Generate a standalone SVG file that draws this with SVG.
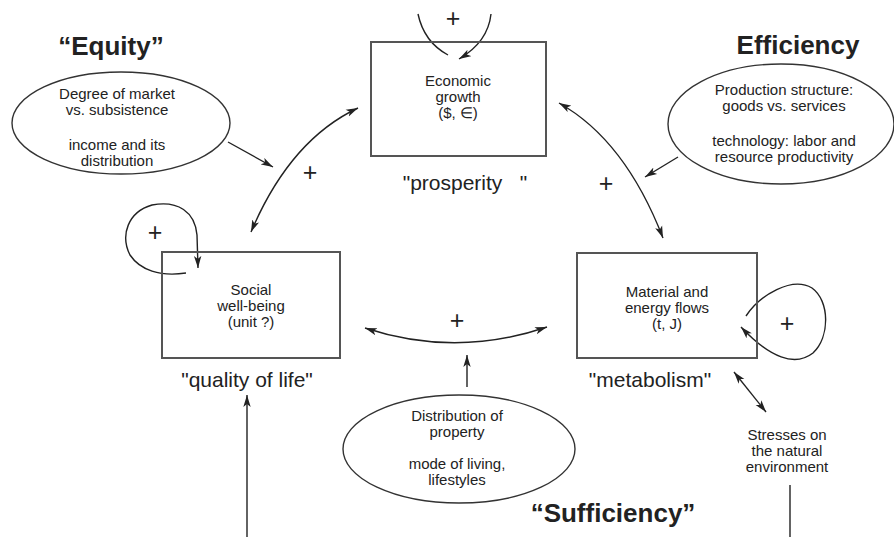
<svg xmlns="http://www.w3.org/2000/svg" width="894" height="537" viewBox="0 0 894 537">
<style>
text{font-family:"Liberation Sans",Arial,Helvetica,sans-serif;fill:#222}
.h{font-size:26px;font-weight:bold;text-anchor:middle}
.s{font-size:15px;text-anchor:middle}
.l{font-size:21px;text-anchor:middle}
.p{font-size:25px;text-anchor:middle}
.box{fill:none;stroke:#555;stroke-width:2}
.ell{fill:#fff;stroke:#333;stroke-width:1.4}
.c{fill:none;stroke:#222;stroke-width:1.4}
</style>
<defs>
<marker id="ah" markerUnits="userSpaceOnUse" markerWidth="13" markerHeight="9" refX="12" refY="4.5" orient="auto-start-reverse">
<path d="M0,0.8 L12,4.5 L0,8.2 L3,4.5 z" fill="#222"/>
</marker>
</defs>
<rect width="894" height="537" fill="#fff"/>

<g id="connectors">
<path class="c" d="M228,142 L273,167" marker-end="url(#ah)"/>
<path class="c" d="M358,108 Q290,140 251,232" marker-start="url(#ah)" marker-end="url(#ah)"/>
<path class="c" d="M678,157 L645,177" marker-end="url(#ah)"/>
<path class="c" d="M559,103 Q625,140 663,238" marker-start="url(#ah)" marker-end="url(#ah)"/>
<path class="c" d="M365,328 Q456,358 547,327" marker-start="url(#ah)" marker-end="url(#ah)"/>
<path class="c" d="M467,387 L467,355" marker-end="url(#ah)"/>
<path class="c" d="M247,537 L247,395" marker-end="url(#ah)"/>
<path class="c" d="M734,372 L766,412" marker-start="url(#ah)" marker-end="url(#ah)"/>
<path class="c" d="M790,485 L790,537"/>
<path class="c" d="M418,14 Q424,42 448,55"/>
<path class="c" d="M491,14 Q488,42 459,59" marker-end="url(#ah)"/>
<path class="c" d="M186,273 C160,277 140,270 130,255 C120,235 128,212 152,205 C178,200 195,212 197,235 L198,268" marker-end="url(#ah)"/>
<path class="c" d="M746,316 C760,295 792,276 812,288 C830,301 830,337 813,353 C795,367 770,358 741,327" marker-end="url(#ah)"/>
</g>

<g id="economic-growth">
<rect class="box" x="371" y="42" width="175" height="114"/>
<text class="s" x="458" y="86">Economic</text>
<text class="s" x="458" y="102">growth</text>
<text class="s" x="458" y="118">($, ∈)</text>
<text class="p" x="453" y="27">+</text>
<text class="l" x="465" y="190" xml:space="preserve">"prosperity   "</text>
</g>

<g id="social-well-being">
<rect class="box" x="162" y="252" width="178" height="106"/>
<text class="s" x="251" y="295">Social</text>
<text class="s" x="251" y="311">well-being</text>
<text class="s" x="251" y="327">(unit ?)</text>
<text class="p" x="155" y="241">+</text>
<text class="l" x="247" y="387">"quality of life"</text>
</g>

<g id="material-energy-flows">
<rect class="box" x="577" y="253" width="180" height="105"/>
<text class="s" x="667" y="297">Material and</text>
<text class="s" x="667" y="313">energy flows</text>
<text class="s" x="667" y="329">(t, J)</text>
<text class="p" x="787" y="332">+</text>
<text class="l" x="650" y="387">"metabolism"</text>
</g>

<g id="equity">
<text class="h" x="111" y="55">“Equity”</text>
<ellipse class="ell" cx="121" cy="123" rx="109" ry="51"/>
<text class="s" x="117" y="99">Degree of market</text>
<text class="s" x="117" y="115">vs. subsistence</text>
<text class="s" x="117" y="150">income and its</text>
<text class="s" x="117" y="166">distribution</text>
</g>

<g id="efficiency">
<text class="h" x="798" y="54">Efficiency</text>
<ellipse class="ell" cx="781" cy="124" rx="113" ry="60"/>
<text class="s" x="784" y="95">Production structure:</text>
<text class="s" x="784" y="111">goods vs. services</text>
<text class="s" x="784" y="146">technology: labor and</text>
<text class="s" x="784" y="162">resource productivity</text>
</g>

<g id="sufficiency">
<ellipse class="ell" cx="459" cy="449" rx="116" ry="54"/>
<text class="s" x="457" y="421">Distribution of</text>
<text class="s" x="457" y="437">property</text>
<text class="s" x="457" y="469">mode of living,</text>
<text class="s" x="457" y="485">lifestyles</text>
<text class="h" x="613" y="522">“Sufficiency”</text>
</g>

<g id="labels">
<text class="p" x="310" y="181">+</text>
<text class="p" x="606" y="192">+</text>
<text class="p" x="457" y="329">+</text>
</g>

<g id="stresses">
<text class="s" x="787" y="440">Stresses on</text>
<text class="s" x="787" y="456">the natural</text>
<text class="s" x="787" y="472">environment</text>
</g>
</svg>
